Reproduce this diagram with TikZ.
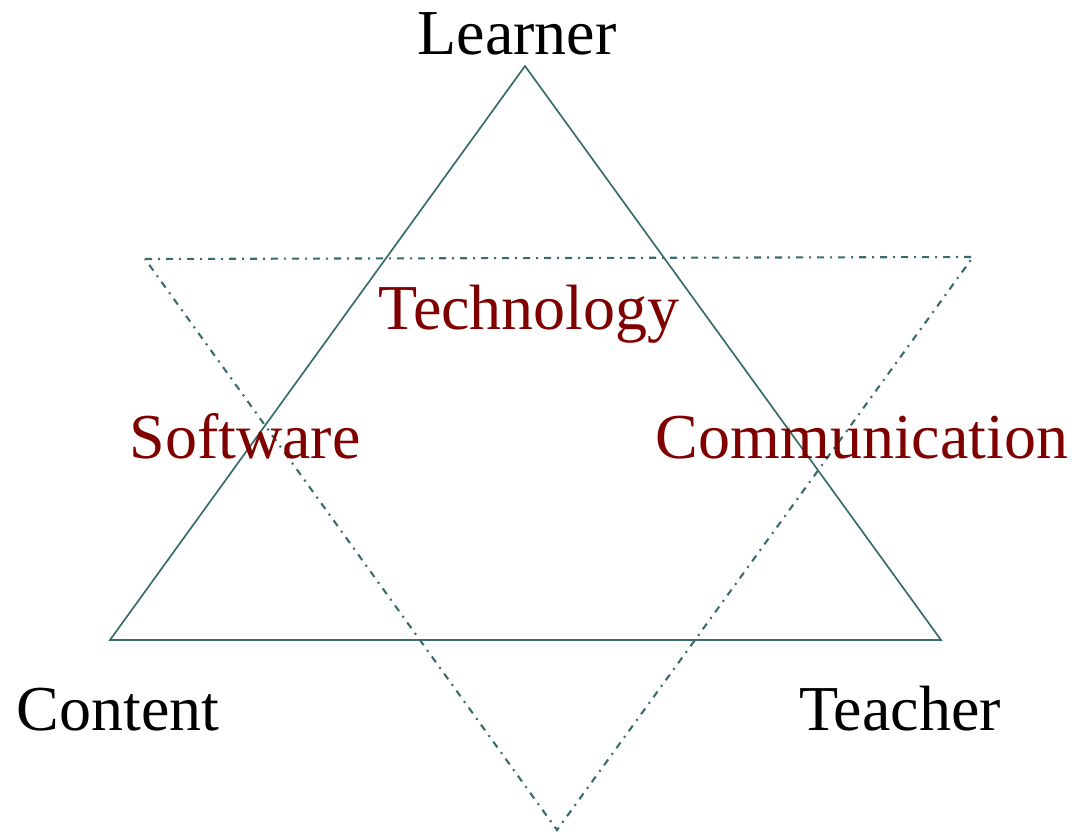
\documentclass[tikz,border=0pt]{standalone}
\usepackage{fontspec}
\setmainfont{Liberation Serif}
\definecolor{edgeteal}{RGB}{58,108,108}
\definecolor{labelred}{RGB}{128,0,0}
\begin{document}
\begin{tikzpicture}[x=1pt,y=-1pt,
  solidedge/.style={draw=edgeteal,line width=1.7pt,line join=miter},
  dashedge/.style={draw=edgeteal,line width=2.1pt,dash pattern=on 7pt off 6pt on 2pt off 6pt},
  vertexlabel/.style={font=\fontsize{64}{70}\selectfont,text=black,anchor=base,inner sep=0pt},
  themelabel/.style={font=\fontsize{64}{70}\selectfont,text=labelred,anchor=base,inner sep=0pt}]
\useasboundingbox (0,0) rectangle (1075,833);
% solid triangle: learner, content, teacher
\coordinate (L) at (525,66);
\coordinate (C) at (110,640);
\coordinate (T) at (941,640);
\draw[solidedge] (L) -- (C) -- (T) -- cycle;
% dash-dotted inverted triangle
\coordinate (A) at (145,259);
\coordinate (B) at (973,257);
\coordinate (D) at (557,830);
\draw[dashedge] (A) -- (B) -- (D) -- cycle;
% labels
\node[vertexlabel] (learner) at (517,54) {Learner};
\node[vertexlabel] (content) at (118,730) {Content};
\node[vertexlabel] (teacher) at (900,730) {Teacher};
\node[themelabel] (technology) at (529,329) {Technology};
\node[themelabel] (software) at (245,458) {Software};
\node[themelabel] (communication) at (862,458) {Communication};
\end{tikzpicture}
\end{document}
